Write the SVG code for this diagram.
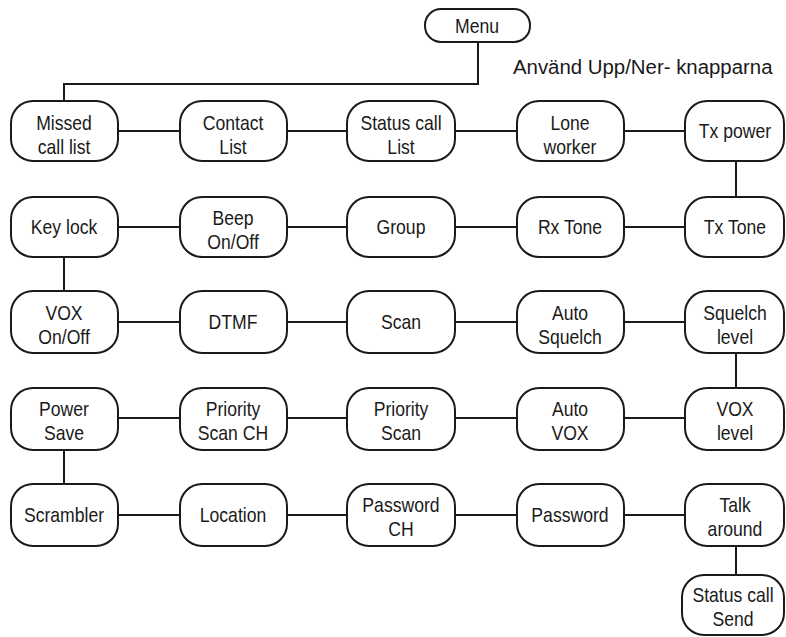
<svg xmlns="http://www.w3.org/2000/svg" width="786" height="637" viewBox="0 0 786 637">
<style>
.n rect{fill:#fff;stroke:#1a1a1a;stroke-width:2}
.n text{font-family:"Liberation Sans",Arial,sans-serif;font-size:20px;fill:#1a1a1a;text-anchor:middle;transform-box:fill-box;transform-origin:center;transform:scaleX(0.88)}
.c path{fill:none;stroke:#1a1a1a;stroke-width:2}
.note{font-family:"Liberation Sans",Arial,sans-serif;font-size:20px;fill:#1a1a1a;transform-box:fill-box;transform-origin:left center;transform:scaleX(1.02)}
</style>
<rect width="786" height="637" fill="#fff"/>
<g class="c">
<path d="M478 42V84H64V101"/>
<path d="M118 131H180M287 131H347M455 131H517M624 131H685"/>
<path d="M118 227H180M287 227H347M455 227H517M624 227H685"/>
<path d="M118 322H180M287 322H347M455 322H517M624 322H685"/>
<path d="M118 418H180M287 418H347M455 418H517M624 418H685"/>
<path d="M118 515H180M287 515H347M455 515H517M624 515H685"/>
<path d="M736 161V196M64 257V291M736 353V388M64 450V484M736 546V575"/>
</g>
<g class="n" id="menu"><rect x="425" y="9" width="105" height="33" rx="16"/><text x="477" y="33">Menu</text></g>
<text class="note" x="513" y="74">Använd Upp/Ner- knapparna</text>
<g class="n" id="missed"><rect x="11" y="101" width="107" height="60" rx="22"/><text x="64" y="130">Missed</text><text x="64" y="154">call list</text></g>
<g class="n" id="contact"><rect x="180" y="101" width="107" height="60" rx="22"/><text x="233" y="130">Contact</text><text x="233" y="154">List</text></g>
<g class="n" id="statuslist"><rect x="347" y="101" width="108" height="60" rx="22"/><text x="401" y="130">Status call</text><text x="401" y="154">List</text></g>
<g class="n" id="lone"><rect x="517" y="101" width="107" height="60" rx="22"/><text x="570" y="130">Lone</text><text x="570" y="154">worker</text></g>
<g class="n" id="txpower"><rect x="685" y="101" width="99" height="60" rx="22"/><text x="735" y="138">Tx power</text></g>
<g class="n" id="keylock"><rect x="11" y="197" width="107" height="60" rx="22"/><text x="64" y="234">Key  lock</text></g>
<g class="n" id="beep"><rect x="180" y="197" width="107" height="60" rx="22"/><text x="233" y="225">Beep</text><text x="233" y="249">On/Off</text></g>
<g class="n" id="group"><rect x="347" y="197" width="108" height="60" rx="22"/><text x="401" y="234">Group</text></g>
<g class="n" id="rxtone"><rect x="517" y="197" width="107" height="60" rx="22"/><text x="570" y="234">Rx Tone</text></g>
<g class="n" id="txtone"><rect x="685" y="197" width="99" height="60" rx="22"/><text x="735" y="234">Tx Tone</text></g>
<g class="n" id="vox"><rect x="11" y="291" width="107" height="62" rx="22"/><text x="64" y="320">VOX</text><text x="64" y="344">On/Off</text></g>
<g class="n" id="dtmf"><rect x="180" y="291" width="107" height="62" rx="22"/><text x="233" y="329">DTMF</text></g>
<g class="n" id="scan"><rect x="347" y="291" width="108" height="62" rx="22"/><text x="401" y="329">Scan</text></g>
<g class="n" id="autosq"><rect x="517" y="291" width="107" height="62" rx="22"/><text x="570" y="320">Auto</text><text x="570" y="344">Squelch</text></g>
<g class="n" id="sqlevel"><rect x="685" y="291" width="99" height="62" rx="22"/><text x="735" y="320">Squelch</text><text x="735" y="344">level</text></g>
<g class="n" id="powersave"><rect x="11" y="388" width="107" height="62" rx="22"/><text x="64" y="416">Power</text><text x="64" y="440">Save</text></g>
<g class="n" id="prioscanch"><rect x="180" y="388" width="107" height="62" rx="22"/><text x="233" y="416">Priority</text><text x="233" y="440">Scan CH</text></g>
<g class="n" id="prioscan"><rect x="347" y="388" width="108" height="62" rx="22"/><text x="401" y="416">Priority</text><text x="401" y="440">Scan</text></g>
<g class="n" id="autovox"><rect x="517" y="388" width="107" height="62" rx="22"/><text x="570" y="416">Auto</text><text x="570" y="440">VOX</text></g>
<g class="n" id="voxlevel"><rect x="685" y="388" width="99" height="62" rx="22"/><text x="735" y="416">VOX</text><text x="735" y="440">level</text></g>
<g class="n" id="scrambler"><rect x="11" y="484" width="107" height="62" rx="22"/><text x="64" y="522">Scrambler</text></g>
<g class="n" id="location"><rect x="180" y="484" width="107" height="62" rx="22"/><text x="233" y="522">Location</text></g>
<g class="n" id="passwordch"><rect x="347" y="484" width="108" height="62" rx="22"/><text x="401" y="512">Password</text><text x="401" y="536">CH</text></g>
<g class="n" id="password"><rect x="517" y="484" width="107" height="62" rx="22"/><text x="570" y="522">Password</text></g>
<g class="n" id="talk"><rect x="685" y="484" width="99" height="62" rx="22"/><text x="735" y="512">Talk</text><text x="735" y="536">around</text></g>
<g class="n" id="statussend"><rect x="682" y="575" width="102" height="60" rx="22"/><text x="733" y="602">Status call</text><text x="733" y="626">Send</text></g>
</svg>
